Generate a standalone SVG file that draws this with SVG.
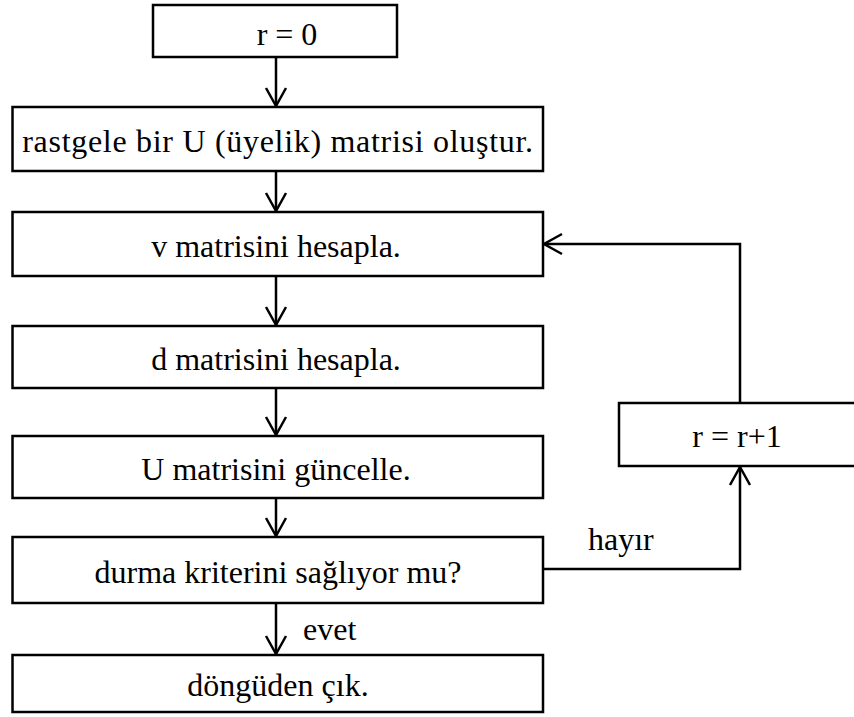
<svg xmlns="http://www.w3.org/2000/svg" width="854" height="717" viewBox="0 0 854 717">
  <defs>
    <style>
      .box { fill: #ffffff; stroke: #000000; stroke-width: 2.5; }
      .lbl { font-family: "Liberation Serif", "Times New Roman", serif; font-size: 32px; fill: #000000; text-anchor: middle; }
      .tag { font-family: "Liberation Serif", "Times New Roman", serif; font-size: 32px; fill: #000000; }
      .wire { fill: none; stroke: #000000; stroke-width: 2.5; marker-end: url(#head); }
    </style>
    <marker id="head" markerUnits="userSpaceOnUse" markerWidth="24" markerHeight="24" viewBox="-20 -12 24 24" refX="0" refY="0" orient="auto">
      <path d="M -18 -10 L 0 0 L -18 10" fill="none" stroke="#000000" stroke-width="2.5"/>
    </marker>
  </defs>
  <rect width="854" height="717" fill="#ffffff"/>

  <g id="connectors">
    <path class="wire" d="M 276 57 L 276 106"/>
    <path class="wire" d="M 276 171 L 276 211"/>
    <path class="wire" d="M 276 276 L 276 325"/>
    <path class="wire" d="M 276 388 L 276 435"/>
    <path class="wire" d="M 276 498 L 276 536"/>
    <path class="wire" d="M 276 603 L 276 654"/>
    <path class="wire" d="M 543 569 L 740 569 L 740 467"/>
    <path class="wire" d="M 740 403 L 740 244 L 544 244"/>
  </g>

  <g id="start">
    <rect class="box" x="153" y="5" width="244" height="52"/>
    <text class="lbl" x="287" y="45">r = 0</text>
  </g>
  <g id="init-u">
    <rect class="box" x="12.5" y="107" width="530.5" height="64"/>
    <text class="lbl" x="278" y="152" letter-spacing="0.7">rastgele bir U (üyelik) matrisi oluştur.</text>
  </g>
  <g id="calc-v">
    <rect class="box" x="12.5" y="212" width="530.5" height="64"/>
    <text class="lbl" x="276" y="257">v matrisini hesapla.</text>
  </g>
  <g id="calc-d">
    <rect class="box" x="12.5" y="326" width="530.5" height="62"/>
    <text class="lbl" x="276" y="370">d matrisini hesapla.</text>
  </g>
  <g id="update-u">
    <rect class="box" x="12.5" y="436" width="530.5" height="62"/>
    <text class="lbl" x="276" y="480">U matrisini güncelle.</text>
  </g>
  <g id="check-stop">
    <rect class="box" x="12.5" y="537" width="530.5" height="66"/>
    <text class="lbl" x="278" y="583">durma kriterini sağlıyor mu?</text>
  </g>
  <g id="exit">
    <rect class="box" x="12.5" y="655" width="530.5" height="57"/>
    <text class="lbl" x="278" y="696">döngüden çık.</text>
  </g>
  <g id="increment">
    <rect class="box" x="619" y="403" width="242" height="63"/>
    <text class="lbl" x="737" y="447">r = r+1</text>
  </g>

  <g id="edge-labels">
    <text class="tag" x="588" y="550">hayır</text>
    <text class="tag" x="303" y="640">evet</text>
  </g>
</svg>
